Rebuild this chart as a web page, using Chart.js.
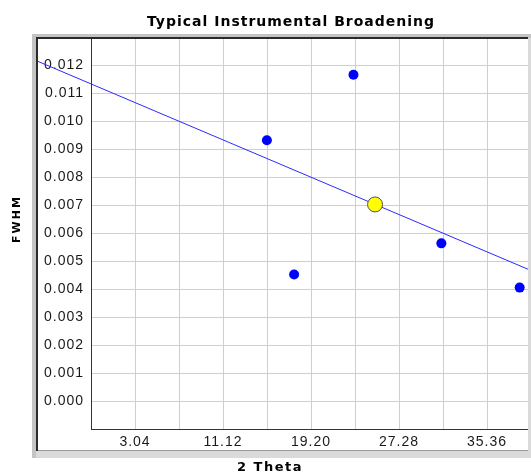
<!DOCTYPE html>
<html>
<head>
<meta charset="utf-8">
<script src="https://cdn.jsdelivr.net/npm/chart.js@4/dist/chart.umd.min.js"></script>
<style>
  body { margin: 0; background: #fff; }
</style>
</head>
<body>
<canvas id="chart" width="531" height="473"></canvas>
<script>
let thetaMin = -1;
let thetaMax = 39.4;
let thetaStep = 4.04;
let fwhmMin = -0.001;
let fwhmMax = 0.013;
let fwhmStep = 0.001;

let peakTheta = [15.15, 23.10, 17.65, 31.17, 38.36];
let peakFwhm = [0.00931, 0.01165, 0.00452, 0.00563, 0.00405];

let meanTheta = [25.08];
let meanFwhm = [0.00702];

let fitTheta = [-6.0, 39.4];
let fitFwhm = [0.01215, 0.00466];

let chartTitle = 'Typical Instrumental Broadening';
let xTitle = '2 Theta';
let yTitle = 'FWHM';

function toPoints(xs, ys) {
    return xs.map((x, i) => ({ x: x, y: ys[i] }));
}

// sunken frame and the titles, drawn the way the old applet did
let framePlugin = {
    id: 'frame',
    beforeLayout(chart) { chart.ctx.letterSpacing = '1px'; },
    beforeDraw(chart) { chart.ctx.letterSpacing = '1px'; },
    afterDraw(chart) {
        let ctx = chart.ctx;
        ctx.save();
        ctx.fillStyle = '#c4c4c4';
        ctx.fillRect(32, 34, 499, 4);
        ctx.fillRect(32, 34, 4, 424);
        ctx.fillStyle = '#dadada';
        ctx.fillRect(36, 451, 495, 7);
        ctx.fillRect(528, 38, 3, 413);
        ctx.fillStyle = '#2a2a2a';
        ctx.fillRect(36, 37, 492, 2);
        ctx.fillRect(36, 37, 2, 414);
        ctx.fillStyle = '#9a9a9a';
        ctx.fillRect(38, 450, 490, 1);

        ctx.fillStyle = '#000';
        ctx.textAlign = 'center';
        ctx.textBaseline = 'alphabetic';
        ctx.font = 'bold 14px "DejaVu Sans"';
        ctx.letterSpacing = '1px';
        ctx.fillText(chartTitle, 291, 26);

        ctx.font = 'bold 13px "DejaVu Sans"';
        ctx.letterSpacing = '1.5px';
        ctx.fillText(xTitle, 270, 471);

        ctx.font = 'bold 11px "DejaVu Sans"';
        ctx.letterSpacing = '2px';
        ctx.translate(20, 219);
        ctx.rotate(-Math.PI / 2);
        ctx.fillText(yTitle, 0, 0);
        ctx.restore();
    }
};

let tickFont = { family: '"Liberation Sans", Arial, sans-serif', size: 14 };

new Chart(document.getElementById('chart'), {
    type: 'scatter',
    data: {
        datasets: [
            {
                label: 'Mean',
                data: toPoints(meanTheta, meanFwhm),
                backgroundColor: '#ffff00',
                borderColor: '#505050',
                borderWidth: 1,
                pointRadius: 7.5,
                order: 1
            },
            {
                label: 'Peaks',
                data: toPoints(peakTheta, peakFwhm),
                backgroundColor: '#0000ff',
                borderColor: '#0000ff',
                borderWidth: 0,
                pointRadius: 5,
                order: 2
            },
            {
                label: 'Fit',
                type: 'line',
                data: toPoints(fitTheta, fitFwhm),
                borderColor: '#2a2aff',
                borderWidth: 1,
                pointRadius: 0,
                fill: false,
                clip: { left: 60, top: 0, right: 0, bottom: 0 },
                order: 3
            }
        ]
    },
    options: {
        responsive: false,
        animation: false,
        devicePixelRatio: 1,
        layout: { autoPadding: false, padding: { top: 37, left: 0, right: 0, bottom: 0 } },
        plugins: {
            legend: { display: false },
            tooltip: { enabled: false },
            title: { display: false }
        },
        scales: {
            x: {
                type: 'linear',
                min: thetaMin,
                max: thetaMax,
                afterFit(scale) {
                    scale.height = 44;
                    scale.paddingLeft = 0;
                    scale.paddingRight = 0;
                },
                ticks: {
                    stepSize: thetaStep,
                    autoSkip: false,
                    maxRotation: 0,
                    padding: 5,
                    color: '#1a1a1a',
                    font: tickFont,
                    callback: (value, index) => index % 2 === 1 ? value.toFixed(2) : ''
                },
                grid: { color: '#cfcfcf', lineWidth: 1, drawTicks: false },
                border: { color: '#333', width: 1 }
            },
            y: {
                type: 'linear',
                min: fwhmMin,
                max: fwhmMax,
                afterFit(scale) {
                    scale.width = 91;
                    scale.paddingTop = 0;
                    scale.paddingBottom = 0;
                },
                ticks: {
                    stepSize: fwhmStep,
                    autoSkip: false,
                    padding: 7,
                    color: '#1a1a1a',
                    font: tickFont,
                    callback: (value, index, ticks) => {
                        if (index === 0 || index === ticks.length - 1) return '';
                        return Math.abs(value).toFixed(3);
                    }
                },
                grid: { color: '#cfcfcf', lineWidth: 1, drawTicks: false },
                border: { color: '#333', width: 1 }
            }
        }
    },
    plugins: [framePlugin]
});
</script>
</body>
</html>
